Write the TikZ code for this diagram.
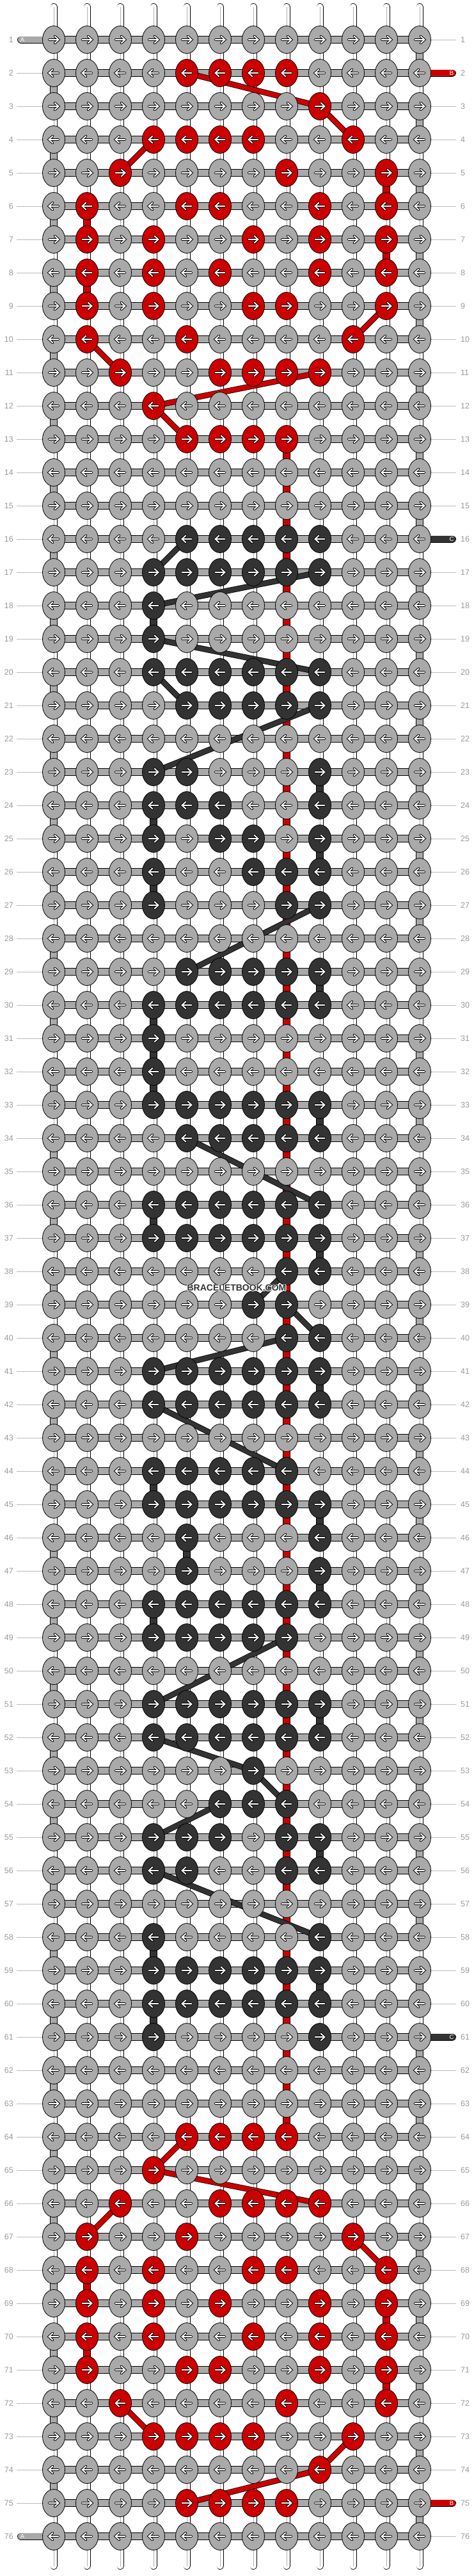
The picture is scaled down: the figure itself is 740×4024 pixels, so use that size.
\documentclass[tikz,border=0pt]{standalone}
\usepackage{fontspec}
\setmainfont{Liberation Sans}
\usetikzlibrary{shapes.geometric}
\definecolor{kgray}{HTML}{A9A9A9}
\definecolor{kred}{HTML}{CC0000}
\definecolor{kdark}{HTML}{333333}
\definecolor{lbl}{HTML}{999999}
\definecolor{lblline}{HTML}{BBBBBB}
\definecolor{strline}{HTML}{B0B0B0}
\pgfdeclarelayer{bg}\pgfdeclarelayer{cords}\pgfdeclarelayer{fg}
\pgfsetlayers{bg,cords,main,fg}
\makeatletter
\newif\ifkmember
\newcommand\testmember[2]{\edef\kctmp{\noexpand\in@{:#1:}{:#2:}}\kctmp\ifin@\kmembertrue\else\kmemberfalse\fi}
\makeatother
\begin{document}
\begin{tikzpicture}[x=1pt,y=-1pt,
  knot/.style={ellipse,draw=black,line width=0.8pt,minimum width=35pt,minimum height=43pt,inner sep=0pt},
  arrowblack/.style={draw=black,line width=3.8pt,line cap=round,miter limit=10},
  arrowwhite/.style={draw=white,line width=1.8pt,line cap=round,miter limit=10},
  hbar/.style={fill=kgray,draw=black,line width=0.8pt},
  vseg/.style={draw=black,line width=0.8pt},
  stringline/.style={draw=black,line width=0.8pt,double=white,double distance=9.4pt,line cap=round},
  stringmid/.style={draw=strline,line width=1pt},
  stub/.style={draw=black,line width=0.8pt,double distance=9.4pt,line cap=round},
  cord/.style={draw=black,line width=0.8pt,double distance=7.4pt},
  stubtxt/.style={text=white,font=\fontsize{9.5}{9.5}\selectfont,inner sep=0pt},
  numL/.style={anchor=east,text=lbl,font=\fontsize{12.5}{12.5}\selectfont,inner sep=0pt},
  numR/.style={anchor=west,text=lbl,font=\fontsize{12.5}{12.5}\selectfont,inner sep=0pt},
  lblln/.style={draw=lblline,line width=1pt},
  wm/.style={font=\fontsize{14}{14}\selectfont\bfseries,inner sep=0pt}]
\useasboundingbox (0,0) rectangle (740,4024);
% ---------- knots ----------
\foreach \r/\R/\D in {1/0/0,2/5:6:7:8/0,3/9/0,4/4:5:6:7:10/0,5/3:8:11/0,6/2:5:6:9:11/0,
 7/2:4:7:9:11/0,8/2:4:6:9:11/0,9/2:4:7:8:11/0,10/2:5:10/0,11/3:6:7:8:9/0,12/4/0,13/5:6:7:8/0,
 14/0/0,15/0/0,16/0/5:6:7:8:9,17/0/4:5:6:7:8:9,18/0/4,19/0/4,20/0/4:5:6:7:8:9,21/0/5:6:7:8:9,
 22/0/0,23/0/4:5:9,24/0/4:5:6:9,25/0/4:6:7:9,26/0/4:7:8:9,27/0/4:8:9,28/0/0,29/0/5:6:7:8:9,
 30/0/4:5:6:7:8:9,31/0/4,32/0/4,33/0/4:5:6:7:8:9,34/0/5:6:7:8:9,35/0/0,36/0/4:5:6:7:8:9,
 37/0/4:5:6:7:8:9,38/0/8:9,39/0/7:8,40/0/8:9,41/0/4:5:6:7:8:9,42/0/4:5:6:7:8:9,43/0/0,
 44/0/4:5:6:7:8,45/0/4:5:6:7:8:9,46/0/5:9,47/0/5:9,48/0/4:5:6:7:8:9,49/0/4:5:6:7:8,50/0/0,
 51/0/4:5:6:7:8:9,52/0/4:5:6:7:8:9,53/0/7,54/0/6:7:8,55/0/4:5:6:8:9,56/0/4:5:8:9,57/0/0,
 58/0/4:9,59/0/4:5:6:7:8:9,60/0/4:5:6:7:8:9,61/0/4:9,62/0/0,63/0/0,64/5:6:7:8/0,65/4/0,
 66/3:6:7:8:9/0,67/2:5:10/0,68/2:4:7:8:11/0,69/2:4:6:9:11/0,70/2:4:7:9:11/0,71/2:5:6:9:11/0,
 72/3:8:11/0,73/4:5:6:7:10/0,74/9/0,75/5:6:7:8/0,76/0/0}{
  \pgfmathtruncatemacro\Y{62+52*(\r-1)}
  \ifodd\r\def\s{1}\else\def\s{-1}\fi
  \foreach \c in {1,...,12}{
    \pgfmathtruncatemacro\X{84+52*(\c-1)}
    \def\kc{kgray}
    \testmember{\c}{\R}\ifkmember\def\kc{kred}\fi
    \testmember{\c}{\D}\ifkmember\def\kc{kdark}\fi
    \node[knot,fill=\kc] (k-\r-\c) at (\X,\Y) {};
    \begin{scope}[shift={(\X,\Y)},xscale=\s]
      \draw[arrowblack] (-7.5,0) -- (7,0) (1.5,-5.5) -- (7.5,0) -- (1.5,5.5);
      \draw[arrowwhite] (-7.5,0) -- (7,0) (1.5,-5.5) -- (7.5,0) -- (1.5,5.5);
    \end{scope}
  }
}
% ---------- background: strings, segments, bars, stubs, labels ----------
\begin{pgfonlayer}{bg}
\foreach \c in {1,...,12}{
  \pgfmathtruncatemacro\X{84+52*(\c-1)}
  \coordinate (top-\c) at (\X,10.5);
  \coordinate (bot-\c) at (\X,4008.5);
  \draw[stringline] (top-\c) -- (bot-\c);
  \draw[stringmid] (top-\c) -- (bot-\c);
}
% gray turns of thread A
\foreach \r in {1,3,...,75}{
  \pgfmathtruncatemacro\n{\r+1}
  \draw[vseg,fill=kgray] ([xshift=-5.5pt]k-\r-12.center) rectangle ([xshift=5.5pt]k-\n-12.center);
}
\foreach \r in {2,4,...,74}{
  \pgfmathtruncatemacro\n{\r+1}
  \draw[vseg,fill=kgray] ([xshift=-5.5pt]k-\r-1.center) rectangle ([xshift=5.5pt]k-\n-1.center);
}
% red vertical runs
\foreach \r/\c in {5/11,6/2,7/11,8/2,68/2,69/11,70/2,71/11}{
  \pgfmathtruncatemacro\n{\r+1}
  \draw[vseg,fill=kred] ([xshift=-5.5pt]k-\r-\c.center) rectangle ([xshift=5.5pt]k-\n-\c.center);
}
\foreach \r in {13,...,63}{
  \pgfmathtruncatemacro\n{\r+1}
  \draw[vseg,fill=kred] ([xshift=-5.5pt]k-\r-8.center) rectangle ([xshift=5.5pt]k-\n-8.center);
}
% dark vertical runs
\foreach \r/\c in {18/4,23/9,24/4,25/9,26/4,29/9,30/4,31/4,32/4,33/9,36/4,37/9,41/9,44/4,45/9,
  46/5,47/9,48/4,51/9,55/9,58/4,59/9,60/4}{
  \pgfmathtruncatemacro\n{\r+1}
  \draw[vseg,fill=kdark] ([xshift=-5.5pt]k-\r-\c.center) rectangle ([xshift=5.5pt]k-\n-\c.center);
}
% horizontal bars
\foreach \r in {1,...,76}{
  \draw[hbar] ([yshift=5.5pt]k-\r-1.center) rectangle ([yshift=-5.5pt]k-\r-12.center);
}
% thread ends
\foreach \r in {1,76}{
  \pgfmathtruncatemacro\Y{62+52*(\r-1)}
  \coordinate (sa-\r) at (32.5,\Y);
  \draw[stub,double=kgray] (sa-\r) -- (k-\r-1.center);
  \node[stubtxt] (ta-\r) at (35,\Y) {A};
}
\foreach \r/\col/\L in {2/kred/B,75/kred/B,16/kdark/C,61/kdark/C}{
  \pgfmathtruncatemacro\Y{62+52*(\r-1)}
  \coordinate (sb-\r) at (707.5,\Y);
  \draw[stub,double=\col] (k-\r-12.center) -- (sb-\r);
  \node[stubtxt] (tb-\r) at (706,\Y) {\L};
}
% row numbers
\foreach \r in {1,...,76}{
  \pgfmathtruncatemacro\Y{62+52*(\r-1)}
  \node[numL] (nl-\r) at (21,\Y) {\r};
  \node[numR] (nr-\r) at (720,\Y) {\r};
  \testmember{\r}{1:76}\ifkmember\else
    \coordinate (ll-\r) at (26,\Y);
    \draw[lblln] (ll-\r) -- (k-\r-1.west);
  \fi
  \testmember{\r}{2:16:61:75}\ifkmember\else
    \coordinate (rl-\r) at (713,\Y);
    \draw[lblln] (k-\r-12.east) -- (rl-\r);
  \fi
}
\end{pgfonlayer}
% ---------- cords ----------
\begin{pgfonlayer}{cords}
\foreach \a/\b in {2-5/3-9,3-9/4-10,4-4/5-3,9-11/10-10,10-2/11-3,11-9/12-4,12-4/13-5,
  64-5/65-4,65-4/66-9,66-3/67-2,67-10/68-11,72-3/73-4,73-10/74-9,74-9/75-5}{
  \draw[cord,double=kred] (k-\a.center) -- (k-\b.center);
}
\foreach \a/\b in {16-5/17-4,17-9/18-4,19-4/20-9,20-4/21-5,21-9/23-4,27-9/29-5,34-5/36-9,
  38-8/39-7,39-8/40-9,40-8/41-4,42-4/44-8,49-8/51-4,52-4/53-7,53-7/54-8,54-6/55-4,56-4/58-9}{
  \draw[cord,double=kdark] (k-\a.center) -- (k-\b.center);
}
\end{pgfonlayer}
% ---------- watermark ----------
\begin{pgfonlayer}{fg}
\foreach \dx/\dy [count=\i] in {-0.8/-0.8,-0.8/0,-0.8/0.8,0/-0.8,0/0.8,0.8/-0.8,0.8/0,0.8/0.8}{
  \node[wm,text=white] (wmh-\i) at (370+\dx,2012+\dy) {BRACELETBOOK.COM};
}
\node[wm,text=kdark] (wm) at (370,2012) {BRACELETBOOK.COM};
\end{pgfonlayer}
\end{tikzpicture}
\end{document}
